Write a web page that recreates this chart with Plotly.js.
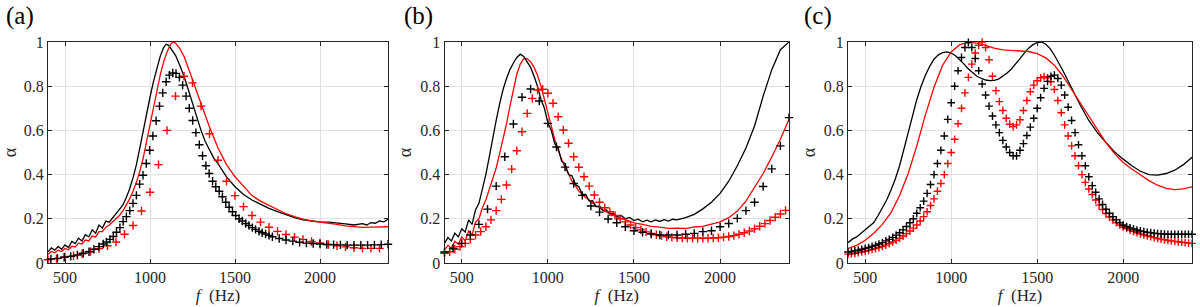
<!DOCTYPE html>
<html><head><meta charset="utf-8">
<script src="https://cdn.plot.ly/plotly-3.0.1.min.js"></script>
<style>html,body{margin:0;padding:0;background:#fff}#chart{width:1200px;height:307px}</style>
</head><body><div id="chart"></div>
<script>
// ---------- Panel (a) ----------
const fA_lineBlack = [400,420,440,460,480,500,520,540,560,580,600,620,640,660,680,700,720,740,760,780,800,820,840,860,880,900,920,940,960,980,1000,1020,1040,1060,1080,1095,1110,1130,1150,1175,1200,1225,1250,1275,1300,1325,1350,1375,1400,1450,1500,1550,1600,1650,1700,1750,1800,1850,1900,1950,2000,2050,2100,2150,2200,2250,2275,2300,2325,2350,2375,2400];
const aA_lineBlack = [0.05,0.068,0.058,0.075,0.062,0.082,0.07,0.098,0.088,0.112,0.1,0.128,0.118,0.15,0.135,0.172,0.158,0.19,0.185,0.205,0.222,0.24,0.262,0.295,0.335,0.385,0.445,0.52,0.6,0.675,0.75,0.82,0.88,0.935,0.975,0.99,0.985,0.965,0.94,0.895,0.845,0.785,0.72,0.66,0.6,0.55,0.51,0.475,0.45,0.39,0.345,0.31,0.285,0.265,0.247,0.232,0.217,0.205,0.195,0.19,0.186,0.185,0.182,0.177,0.172,0.178,0.172,0.183,0.18,0.19,0.186,0.198];
const fA_lineRed = [400,420,440,460,480,500,520,540,560,580,600,620,640,660,680,700,720,740,760,780,800,820,840,860,880,900,920,940,960,980,1000,1020,1040,1060,1080,1100,1120,1135,1150,1175,1200,1225,1250,1275,1300,1350,1400,1450,1500,1550,1600,1650,1700,1750,1800,1850,1900,1950,2000,2050,2100,2150,2200,2250,2300,2350,2400];
const aA_lineRed = [0.04,0.052,0.046,0.058,0.052,0.066,0.06,0.076,0.072,0.09,0.086,0.104,0.1,0.122,0.118,0.142,0.142,0.162,0.172,0.186,0.2,0.215,0.235,0.26,0.29,0.325,0.365,0.415,0.475,0.55,0.625,0.7,0.78,0.85,0.91,0.955,0.988,1.0,0.995,0.97,0.935,0.885,0.83,0.775,0.72,0.615,0.52,0.445,0.39,0.345,0.305,0.28,0.26,0.24,0.223,0.21,0.198,0.19,0.186,0.181,0.175,0.168,0.163,0.161,0.162,0.163,0.164];
const fA_plusBlack = [417,456,495,534,573,608,641,670,700,725,744,764,784,803,823,842,861,881,900,920,939,959,978,998,1017,1036,1056,1075,1095,1114,1134,1153,1173,1192,1212,1231,1251,1270,1290,1309,1329,1348,1368,1387,1407,1426,1446,1465,1485,1504,1524,1543,1563,1582,1602,1621,1641,1660,1680,1700,1720,1760,1800,1840,1880,1920,1960,2000,2040,2080,2120,2160,2200,2240,2280,2320,2360,2400];
const aA_plusBlack = [0.018,0.021,0.026,0.03,0.036,0.044,0.051,0.062,0.074,0.086,0.095,0.107,0.12,0.139,0.16,0.187,0.21,0.237,0.27,0.306,0.357,0.397,0.45,0.51,0.575,0.644,0.71,0.77,0.82,0.85,0.86,0.858,0.84,0.805,0.755,0.7,0.645,0.59,0.535,0.485,0.44,0.405,0.37,0.345,0.325,0.3,0.275,0.252,0.232,0.215,0.2,0.19,0.179,0.17,0.16,0.152,0.144,0.137,0.131,0.125,0.119,0.111,0.104,0.099,0.094,0.09,0.088,0.086,0.084,0.083,0.082,0.081,0.081,0.081,0.081,0.082,0.083,0.085];
const fA_plusRed = [400,450,500,550,600,650,700,750,800,850,900,950,1000,1050,1100,1150,1200,1250,1300,1350,1400,1450,1500,1550,1600,1650,1700,1750,1800,1850,1900,1950,2000,2050,2100,2150,2200,2250,2300,2350];
const aA_plusRed = [0.015,0.02,0.027,0.033,0.042,0.052,0.065,0.078,0.095,0.13,0.17,0.235,0.32,0.445,0.6,0.755,0.845,0.815,0.71,0.585,0.465,0.37,0.305,0.255,0.215,0.185,0.162,0.143,0.129,0.117,0.107,0.097,0.091,0.084,0.078,0.073,0.069,0.066,0.066,0.066];

// ---------- Panel (b) ----------
const fB_lineBlack = [400,420,440,460,480,500,520,540,560,580,600,620,640,660,680,700,720,740,760,780,800,820,840,860,880,900,920,940,960,980,1000,1020,1040,1060,1080,1100,1120,1140,1160,1180,1200,1220,1240,1260,1280,1300,1320,1340,1360,1380,1400,1425,1450,1475,1500,1525,1550,1575,1600,1625,1650,1675,1700,1725,1750,1775,1800,1850,1900,1950,2000,2050,2100,2150,2200,2250,2300,2350,2400];
const aB_lineBlack = [0.09,0.115,0.1,0.135,0.118,0.155,0.14,0.195,0.175,0.24,0.27,0.33,0.4,0.48,0.57,0.645,0.72,0.785,0.835,0.875,0.905,0.93,0.945,0.935,0.91,0.885,0.845,0.8,0.74,0.7,0.635,0.6,0.54,0.52,0.46,0.45,0.4,0.395,0.355,0.345,0.31,0.31,0.28,0.282,0.255,0.258,0.238,0.24,0.222,0.225,0.21,0.215,0.2,0.206,0.192,0.198,0.186,0.194,0.186,0.195,0.188,0.196,0.19,0.198,0.195,0.2,0.205,0.22,0.245,0.275,0.315,0.37,0.44,0.52,0.62,0.755,0.875,0.965,1.0];
const fB_lineRed = [400,420,440,460,480,500,520,540,560,580,600,620,640,660,680,700,720,740,760,780,800,820,840,860,880,900,920,940,960,980,1000,1020,1040,1060,1080,1100,1120,1140,1160,1180,1200,1220,1240,1260,1280,1300,1320,1340,1360,1380,1400,1450,1500,1550,1600,1650,1700,1750,1800,1850,1900,1950,2000,2050,2100,2150,2200,2250,2300,2350,2400];
const aB_lineRed = [0.06,0.08,0.068,0.098,0.085,0.118,0.1,0.145,0.128,0.185,0.2,0.25,0.285,0.335,0.385,0.43,0.495,0.56,0.63,0.71,0.785,0.855,0.9,0.925,0.925,0.91,0.885,0.85,0.8,0.74,0.68,0.61,0.56,0.51,0.47,0.43,0.405,0.37,0.35,0.325,0.31,0.295,0.285,0.27,0.258,0.25,0.238,0.232,0.222,0.218,0.208,0.196,0.182,0.175,0.166,0.162,0.157,0.158,0.156,0.163,0.166,0.176,0.186,0.205,0.235,0.28,0.34,0.405,0.48,0.56,0.65];
const fB_plusBlack = [400,450,500,550,600,650,700,750,800,850,900,950,1000,1050,1100,1150,1200,1250,1300,1350,1400,1450,1500,1550,1600,1650,1700,1750,1800,1850,1900,1950,2000,2050,2100,2150,2200,2250,2300,2350,2400];
const aB_plusBlack = [0.05,0.066,0.089,0.127,0.175,0.244,0.348,0.481,0.629,0.75,0.787,0.733,0.632,0.525,0.434,0.36,0.306,0.258,0.23,0.199,0.182,0.164,0.146,0.139,0.131,0.127,0.127,0.127,0.13,0.134,0.142,0.146,0.164,0.179,0.202,0.237,0.275,0.346,0.426,0.53,0.658];
const fB_plusRed = [400,430,460,490,520,550,580,610,640,670,700,730,760,790,820,850,880,910,940,970,1000,1030,1060,1090,1120,1150,1180,1210,1240,1270,1300,1330,1360,1390,1420,1450,1480,1510,1540,1570,1600,1630,1660,1690,1720,1750,1780,1810,1840,1870,1900,1930,1960,1990,2020,2050,2080,2110,2140,2170,2200,2230,2260,2290,2320,2350,2380];
const aB_plusRed = [0.044,0.051,0.062,0.074,0.089,0.107,0.127,0.142,0.164,0.195,0.237,0.288,0.353,0.425,0.508,0.594,0.677,0.745,0.783,0.786,0.768,0.723,0.662,0.602,0.542,0.481,0.433,0.39,0.348,0.308,0.275,0.25,0.232,0.215,0.2,0.186,0.172,0.16,0.15,0.141,0.134,0.128,0.123,0.119,0.116,0.114,0.113,0.112,0.112,0.112,0.112,0.112,0.113,0.114,0.117,0.12,0.124,0.13,0.137,0.145,0.155,0.166,0.178,0.192,0.207,0.222,0.238];

// ---------- Panel (c) ----------
const fC_lineBlack = [400,425,450,475,500,525,550,575,600,625,650,675,700,725,750,775,800,825,850,875,900,925,950,975,1000,1025,1050,1075,1100,1125,1150,1175,1200,1225,1250,1275,1300,1325,1350,1375,1400,1425,1450,1475,1500,1525,1550,1575,1600,1650,1700,1750,1800,1850,1900,1950,2000,2050,2100,2150,2200,2250,2300,2350,2400];
const aC_lineBlack = [0.092,0.108,0.118,0.135,0.148,0.165,0.183,0.215,0.25,0.285,0.33,0.38,0.44,0.51,0.59,0.665,0.74,0.8,0.85,0.89,0.922,0.942,0.952,0.955,0.95,0.938,0.92,0.9,0.878,0.86,0.845,0.835,0.828,0.825,0.826,0.832,0.845,0.86,0.878,0.9,0.925,0.95,0.972,0.988,0.997,1.0,0.99,0.97,0.94,0.87,0.79,0.715,0.645,0.59,0.545,0.502,0.47,0.44,0.415,0.4,0.398,0.405,0.42,0.445,0.478];
const fC_lineRed = [400,450,500,550,600,650,700,750,800,850,900,950,1000,1050,1100,1150,1200,1250,1300,1350,1400,1450,1500,1550,1600,1650,1700,1750,1800,1850,1900,1950,2000,2050,2100,2150,2200,2250,2300,2350,2400];
const aC_lineRed = [0.066,0.08,0.103,0.135,0.175,0.228,0.305,0.405,0.53,0.67,0.795,0.895,0.955,0.988,0.998,0.995,0.985,0.972,0.964,0.962,0.962,0.957,0.947,0.928,0.895,0.845,0.785,0.725,0.66,0.6,0.545,0.495,0.455,0.425,0.398,0.373,0.352,0.338,0.332,0.335,0.345];
const fC_plus = [400,420,440,460,480,500,520,540,560,580,600,620,640,660,680,700,720,740,760,780,800,820,840,860,880,900,920,940,960,980,1000,1020,1040,1060,1080,1100,1120,1140,1160,1180,1200,1220,1240,1260,1280,1300,1320,1340,1360,1380,1400,1420,1440,1460,1480,1500,1520,1540,1560,1580,1600,1620,1640,1660,1680,1700,1720,1740,1760,1780,1800,1820,1840,1860,1880,1900,1920,1940,1960,1980,2000,2020,2040,2060,2080,2100,2120,2140,2160,2180,2200,2220,2240,2260,2280,2300,2320,2340,2360,2380,2400];
const aC_plusBlack = [0.05,0.052,0.055,0.058,0.062,0.066,0.07,0.075,0.08,0.086,0.092,0.1,0.107,0.116,0.126,0.137,0.15,0.165,0.182,0.2,0.225,0.25,0.28,0.315,0.355,0.4,0.45,0.51,0.575,0.65,0.725,0.8,0.87,0.93,0.975,0.998,0.975,0.925,0.87,0.81,0.76,0.71,0.665,0.625,0.59,0.555,0.525,0.5,0.485,0.485,0.51,0.54,0.577,0.615,0.655,0.7,0.748,0.79,0.822,0.845,0.85,0.835,0.805,0.76,0.705,0.645,0.59,0.535,0.485,0.44,0.39,0.35,0.32,0.29,0.265,0.243,0.225,0.21,0.195,0.182,0.172,0.165,0.159,0.154,0.149,0.145,0.142,0.139,0.137,0.135,0.133,0.132,0.131,0.13,0.13,0.13,0.13,0.13,0.13,0.13,0.13];
const aC_plusRed = [0.04,0.042,0.044,0.047,0.05,0.053,0.057,0.061,0.065,0.07,0.075,0.081,0.088,0.095,0.103,0.112,0.122,0.133,0.145,0.158,0.172,0.19,0.21,0.232,0.26,0.29,0.325,0.36,0.4,0.45,0.5,0.56,0.63,0.7,0.77,0.84,0.9,0.95,0.985,1.0,0.975,0.92,0.845,0.78,0.73,0.69,0.655,0.628,0.617,0.625,0.648,0.69,0.735,0.775,0.805,0.825,0.838,0.843,0.838,0.82,0.785,0.735,0.68,0.625,0.575,0.53,0.485,0.44,0.4,0.365,0.335,0.31,0.285,0.262,0.242,0.224,0.208,0.195,0.183,0.172,0.163,0.156,0.149,0.143,0.137,0.132,0.127,0.123,0.119,0.115,0.111,0.108,0.105,0.102,0.1,0.098,0.096,0.094,0.092,0.09,0.089];

const xTicks = [500,1000,1500,2000];
const yTicks = [0,0.2,0.4,0.6,0.8,1];
const yTickText = ['0','0.2','0.4','0.6','0.8','1'];
const panelLabels = ['(a)','(b)','(c)'];

const BLACK='#000000', RED='#ff0000';
const FONT='"Liberation Serif", "DejaVu Serif", serif';

function lineTrace(x,y,color,ax){
  return {x:x,y:y,type:'scatter',mode:'lines',line:{color:color,width:1.3},xaxis:'x'+ax,yaxis:'y'+ax,showlegend:false,hoverinfo:'skip'};
}
function plusTrace(x,y,color,ax,size){
  return {x:x,y:y,type:'scatter',mode:'markers',cliponaxis:false,
    marker:{symbol:'cross-thin',size:size,color:color,line:{color:color,width:1.4}},
    xaxis:'x'+ax,yaxis:'y'+ax,showlegend:false,hoverinfo:'skip'};
}
const data = [
  lineTrace(fA_lineBlack,aA_lineBlack,BLACK,''),
  lineTrace(fA_lineRed,aA_lineRed,RED,''),
  plusTrace(fA_plusRed,aA_plusRed,RED,'',6),
  plusTrace(fA_plusBlack,aA_plusBlack,BLACK,'',6),
  lineTrace(fB_lineRed,aB_lineRed,RED,'2'),
  lineTrace(fB_lineBlack,aB_lineBlack,BLACK,'2'),
  plusTrace(fB_plusRed,aB_plusRed,RED,'2',6),
  plusTrace(fB_plusBlack,aB_plusBlack,BLACK,'2',6),
  lineTrace(fC_lineBlack,aC_lineBlack,BLACK,'3'),
  lineTrace(fC_lineRed,aC_lineRed,RED,'3'),
  plusTrace(fC_plus,aC_plusRed,RED,'3',5.5),
  plusTrace(fC_plus,aC_plusBlack,BLACK,'3',5.5)
];

function xAxis(domain,anchor){
  return {domain:domain,anchor:anchor,range:[400,2400],tickvals:xTicks,
    showgrid:true,gridcolor:'#e0e0e0',gridwidth:1,zeroline:false,
    showline:true,linecolor:'#262626',linewidth:1,mirror:'ticks',
    ticks:'inside',ticklen:4,tickcolor:'#262626',
    tickfont:{family:FONT,size:16,color:'#262626'},automargin:false,
    title:{text:'<i>f</i>  (Hz)',font:{family:FONT,size:17,color:'#262626'},standoff:1}};
}
function yAxis(anchor){
  return {domain:[0,1],anchor:anchor,range:[0,1],tickvals:yTicks,ticktext:yTickText,
    showgrid:true,gridcolor:'#e0e0e0',gridwidth:1,zeroline:false,
    showline:true,linecolor:'#262626',linewidth:1,mirror:'ticks',
    ticks:'inside',ticklen:4,tickcolor:'#262626',
    tickfont:{family:FONT,size:16,color:'#262626'},automargin:false,
    title:{text:'α',font:{family:FONT,size:18,color:'#262626'},standoff:3}};
}
const layout = {
  width:1200,height:307,margin:{l:0,r:0,t:42,b:44},
  paper_bgcolor:'#ffffff',plot_bgcolor:'#ffffff',showlegend:false,
  font:{family:FONT,color:'#262626'},
  xaxis:xAxis([48/1200,388/1200],'y'),
  yaxis:yAxis('x'),
  xaxis2:xAxis([444.5/1200,789/1200],'y2'),
  yaxis2:yAxis('x2'),
  xaxis3:xAxis([848/1200,1192/1200],'y3'),
  yaxis3:yAxis('x3'),
  annotations:[
    {text:panelLabels[0],x:4/1200,y:1.118,xref:'paper',yref:'paper',xanchor:'left',yanchor:'middle',showarrow:false,font:{family:FONT,size:25,color:'#000'}},
    {text:panelLabels[1],x:402/1200,y:1.118,xref:'paper',yref:'paper',xanchor:'left',yanchor:'middle',showarrow:false,font:{family:FONT,size:25,color:'#000'}},
    {text:panelLabels[2],x:802/1200,y:1.118,xref:'paper',yref:'paper',xanchor:'left',yanchor:'middle',showarrow:false,font:{family:FONT,size:25,color:'#000'}}
  ]
};
Plotly.newPlot('chart',data,layout,{staticPlot:true,displayModeBar:false});
</script>
</body></html>
